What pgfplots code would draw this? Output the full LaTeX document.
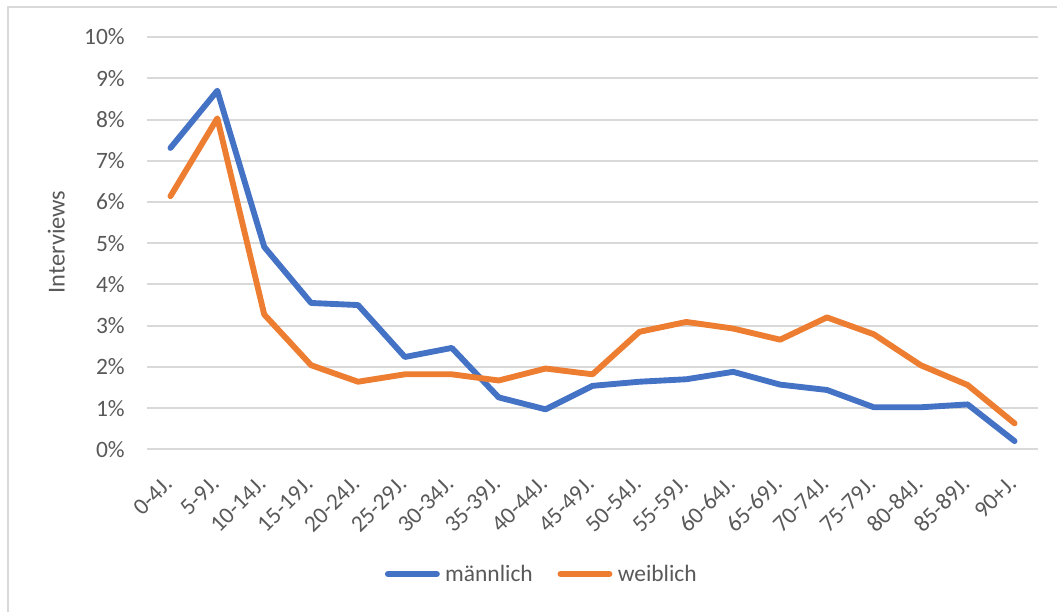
\documentclass[border=0pt]{standalone}
\usepackage{fontspec}
\setmainfont{Carlito}
\usepackage{pgfplots}
\pgfplotsset{compat=1.18}
\definecolor{mblue}{HTML}{4472C4}
\definecolor{morange}{HTML}{ED7D31}
\definecolor{gridgray}{HTML}{D9D9D9}
\definecolor{textgray}{HTML}{595959}
\begin{document}
\begin{tikzpicture}
\path[use as bounding box] (0pt,0pt) rectangle (792.75pt,459pt);
\draw[gridgray, line width=1.5pt] (6pt,0pt) -- (6pt,453.75pt) -- (792.75pt,453.75pt);
\node[rotate=90, anchor=south, inner sep=0pt, text=textgray, font=\fontsize{18.3}{22}\selectfont] at (48.75pt,277.5pt) {Interviews};
\begin{axis}[
  at={(110.25pt,122pt)}, anchor=south west,
  scale only axis, width=668.25pt, height=309.2pt,
  xmin=-0.5, xmax=18.5, ymin=0, ymax=10,
  axis line style={draw=none}, major tick style={draw=none}, minor tick style={draw=none},
  ymajorgrids, major grid style={gridgray, line width=1.5pt},
  ytick={0,1,2,3,4,5,6,7,8,9,10},
  yticklabels={0\%,1\%,2\%,3\%,4\%,5\%,6\%,7\%,8\%,9\%,10\%},
  xtick={0,...,18},
  xticklabels={0-4J.,5-9J.,10-14J.,15-19J.,20-24J.,25-29J.,30-34J.,35-39J.,40-44J.,45-49J.,50-54J.,55-59J.,60-64J.,65-69J.,70-74J.,75-79J.,80-84J.,85-89J.,90+J.},
  /pgf/number format/assume math mode=true,
  yticklabel style={font=\fontsize{17.6}{21}\selectfont, text=textgray, anchor=east, inner sep=0pt, xshift=-16.5pt},
  xticklabel style={font=\fontsize{17.6}{21}\selectfont, text=textgray, xshift=-1.5pt, yshift=-23pt, rotate=45, anchor=east, inner sep=0pt},
  legend columns=2,
  legend style={at={(0.442,-0.3024)}, anchor=center, draw=none, fill=none,
    font=\fontsize{17.6}{21}\selectfont, text=textgray,
    nodes={inner sep=0pt},
    /tikz/every odd column/.append style={column sep=4pt},
    /tikz/every even column/.append style={column sep=18.5pt}},
  legend image code/.code={\draw[#1] (2.2pt,0pt) -- (39pt,0pt);},
  every axis plot/.append style={line width=4.4pt, line cap=round, line join=round},
]
\addplot[mblue] coordinates {
(0,7.31) (1,8.70) (2,4.91) (3,3.55) (4,3.50) (5,2.24) (6,2.46) (7,1.26) (8,0.97) (9,1.54)
(10,1.64) (11,1.70) (12,1.88) (13,1.57) (14,1.44) (15,1.02) (16,1.02) (17,1.09) (18,0.20)};
\addlegendentry{männlich}
\addplot[morange] coordinates {
(0,6.14) (1,8.03) (2,3.27) (3,2.04) (4,1.64) (5,1.82) (6,1.82) (7,1.67) (8,1.96) (9,1.82)
(10,2.85) (11,3.09) (12,2.93) (13,2.66) (14,3.20) (15,2.79) (16,2.04) (17,1.56) (18,0.63)};
\addlegendentry{weiblich}
\end{axis}
\end{tikzpicture}
\end{document}
